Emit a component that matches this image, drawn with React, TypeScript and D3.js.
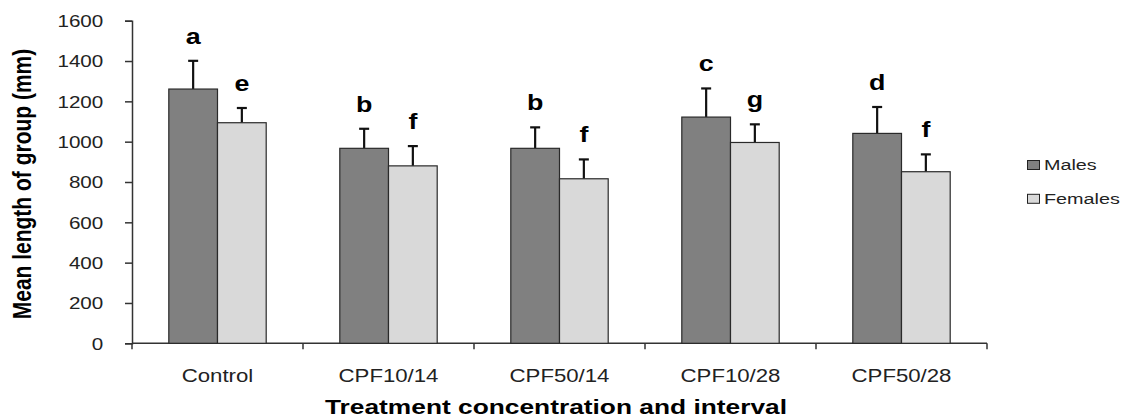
import React, { useEffect, useRef } from 'react';
import * as d3 from 'd3';

const categories = ['Control', 'CPF10/14', 'CPF50/14', 'CPF10/28', 'CPF50/28'];
const seriesNames = ['Males', 'Females'];
const malesMean = [1261, 967, 967, 1122, 1041];
const malesErr = [140, 97, 104, 142, 131];
const femalesMean = [1094, 880, 816, 996, 851];
const femalesErr = [73, 98, 96, 90, 86];
const malesLetters = ['a', 'b', 'b', 'c', 'd'];
const femalesLetters = ['e', 'f', 'f', 'g', 'f'];
const yTicks = [0, 200, 400, 600, 800, 1000, 1200, 1400, 1600];

const colors = ['#808080', '#d9d9d9'];
const FONT = 'Arial, "Liberation Sans", sans-serif';

// the original picture is stretched sideways, so text gets a horizontal scale
const wideText = (parent, x, y, sx, txt, size, bold = false, anchor = 'middle', fill = '#222') => {
  parent.append('g')
    .attr('transform', `translate(${x},${y}) scale(${sx},1)`)
    .append('text')
    .attr('text-anchor', anchor)
    .attr('fill', fill)
    .style('font-family', FONT)
    .style('font-size', `${size}px`)
    .style('font-weight', bold ? 'bold' : 'normal')
    .text(txt);
};

const App = () => {
  const svgRef = useRef<SVGSVGElement>(null);

  useEffect(() => {
    const W = 1127;
    const H = 419;
    const margin = { top: 20.7, left: 132, right: 140, bottom: 75.7 };
    const plotW = W - margin.left - margin.right;
    const plotH = H - margin.top - margin.bottom;

    d3.select(svgRef.current).selectAll('*').remove();
    const svg = d3.select(svgRef.current)
      .attr('width', W)
      .attr('height', H)
      .style('font-family', FONT);

    const g = svg.append('g').attr('transform', `translate(${margin.left},${margin.top})`);

    const x = d3.scaleBand().domain(categories).range([0, plotW]).paddingInner(0).paddingOuter(0);
    const inner = d3.scaleBand().domain(seriesNames).range([36.8, x.bandwidth() - 36.8]).padding(0);
    const y = d3.scaleLinear().domain([0, 1600]).range([plotH, 0]);

    const series = [
      { name: 'Males', mean: malesMean, err: malesErr, letters: malesLetters },
      { name: 'Females', mean: femalesMean, err: femalesErr, letters: femalesLetters },
    ];

    // Y axis
    const yAxis = g.append('g').call(d3.axisLeft(y).tickValues(yTicks).tickSize(7).tickFormat(() => ''));
    yAxis.select('.domain').attr('stroke', '#333').attr('stroke-width', 1.5);
    yAxis.selectAll('.tick line').attr('stroke', '#333').attr('stroke-width', 1.5);
    yAxis.selectAll('.tick text').remove();
    yTicks.forEach(t => wideText(g, -28.7, y(t) + 6.3, 1.25, d3.format('d')(t), 16.5, false, 'end'));

    // X axis (ticks at category boundaries)
    const xa = g.append('g').attr('transform', `translate(0,${plotH})`);
    xa.append('line').attr('x1', 0).attr('x2', plotW).attr('stroke', '#333').attr('stroke-width', 1.5);
    const bounds = d3.range(categories.length + 1).map(i => i * x.step());
    xa.selectAll('.xt').data(bounds).enter().append('line')
      .attr('x1', d => d).attr('x2', d => d).attr('y1', 0).attr('y2', 6)
      .attr('stroke', '#333').attr('stroke-width', 1.5);
    categories.forEach(c => wideText(xa, (x(c) as number) + x.bandwidth() / 2, 38.4, 1.2, c, 18.5));

    // Bars, error bars, letters
    series.forEach((s, si) => {
      const grp = g.append('g');
      categories.forEach((c, ci) => {
        const bx = (x(c) as number) + (inner(s.name) as number);
        const bw = inner.bandwidth();
        const top = y(s.mean[ci]);
        const errTop = y(s.mean[ci] + s.err[ci]);
        const cx = bx + bw / 2;
        grp.append('line')
          .attr('x1', cx).attr('x2', cx).attr('y1', top).attr('y2', errTop)
          .attr('stroke', '#111').attr('stroke-width', 2.2);
        grp.append('line')
          .attr('x1', cx - 5).attr('x2', cx + 5).attr('y1', errTop).attr('y2', errTop)
          .attr('stroke', '#111').attr('stroke-width', 2.2);
        grp.append('rect')
          .attr('x', bx).attr('y', top).attr('width', bw).attr('height', plotH - top)
          .attr('fill', colors[si]).attr('stroke', '#2a2a2a').attr('stroke-width', 1.2);
        wideText(grp, cx, errTop - 17, 1.22, s.letters[ci], 22, true, 'middle', '#000');
      });
    });

    // Y axis title
    svg.append('g')
      .attr('transform', `translate(31,184) rotate(-90) scale(1,1.2)`)
      .append('text')
      .attr('text-anchor', 'middle')
      .attr('fill', '#000')
      .style('font-size', '21px')
      .style('font-weight', 'bold')
      .text('Mean length of group (mm)');

    // X axis title
    wideText(svg, 556, 413.5, 1.35, 'Treatment concentration and interval', 19.5, true, 'middle', '#000');

    // Legend
    const lg = svg.append('g').attr('transform', 'translate(1027,160)');
    seriesNames.forEach((n, i) => {
      const row = lg.append('g').attr('transform', `translate(0,${i * 33.8})`);
      row.append('rect').attr('x', 0.5).attr('y', 0.5).attr('width', 12).attr('height', 9)
        .attr('fill', colors[i]).attr('stroke', '#222').attr('stroke-width', 1);
      wideText(row, 17, 10.2, 1.32, n, 15, false, 'start');
    });
  }, []);

  return (
    <div style={{ position: 'absolute', left: 0, top: 0, background: '#fff' }}>
      <svg ref={svgRef}></svg>
    </div>
  );
};

export default App;
